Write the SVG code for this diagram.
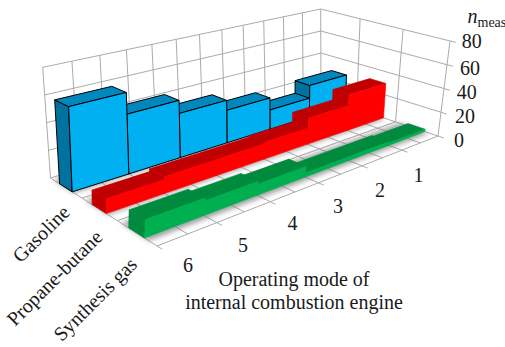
<svg xmlns="http://www.w3.org/2000/svg" width="505" height="347" viewBox="0 0 505 347">
  <style>
    .grid { stroke: #ababab; stroke-width: 1; fill: none; }
    .wall { fill: #ffffff; stroke: none; }
    .gasF { fill: #00b0f0; stroke: #000; stroke-width: 1; stroke-linejoin: round; }
    .gasS { fill: #0088be; stroke: #000; stroke-width: 1; stroke-linejoin: round; }
    .gasL { fill: #0072a0; stroke: #000; stroke-width: 1; stroke-linejoin: round; }
    .lpgF { fill: #ff0000; stroke: #ff0000; stroke-width: 0.6; stroke-linejoin: round; }
    .lpgS { fill: #c00000; stroke: #c00000; stroke-width: 0.6; stroke-linejoin: round; }
    .synF { fill: #00b050; stroke: #00b050; stroke-width: 0.6; stroke-linejoin: round; }
    .synS { fill: #008a3e; stroke: #008a3e; stroke-width: 0.6; stroke-linejoin: round; }
    .shade { fill: #6e6e6e; opacity: 0.65; filter: url(#soft); }
    .txt { font-family: "Liberation Serif", "Times New Roman", serif; font-size: 20px; fill: #1a1a1a; }
  </style>
  <defs>
    <filter id="soft" x="-10%" y="-40%" width="120%" height="180%">
      <feGaussianBlur stdDeviation="2.6"/>
    </filter>
  </defs>
  <rect width="505" height="347" fill="#ffffff"/>

  <!-- back wall, side wall and floor -->
  <g id="walls">
    <polygon class="wall" points="50.5,178 321,97 320.7,9 42.7,67.3"/>
    <polygon class="wall" points="321,97 438,136 450,41 320.7,9"/>
    <polygon class="wall" points="50.5,178 321,97 438,136 157,246"/>
  </g>

  <g id="grid" class="grid">
    <!-- back wall: category lines -->
    <line x1="50.5" y1="178" x2="42.7" y2="67.3"/>
    <line x1="78.96" y1="169.48" x2="71.95" y2="61.17"/>
    <line x1="106.1" y1="161.35" x2="99.84" y2="55.32"/>
    <line x1="132" y1="153.6" x2="126.45" y2="49.74"/>
    <line x1="156.74" y1="146.19" x2="151.88" y2="44.41"/>
    <line x1="180.4" y1="139.1" x2="176.2" y2="39.31"/>
    <line x1="203.06" y1="132.32" x2="199.49" y2="34.43"/>
    <line x1="224.77" y1="125.82" x2="221.8" y2="29.75"/>
    <line x1="245.59" y1="119.58" x2="243.2" y2="25.27"/>
    <line x1="265.58" y1="113.6" x2="263.74" y2="20.96"/>
    <line x1="284.78" y1="107.85" x2="283.47" y2="16.83"/>
    <line x1="303.24" y1="102.32" x2="302.45" y2="12.85"/>
    <line x1="321" y1="97" x2="320.7" y2="9"/>
    <!-- back wall: value lines -->
    <line x1="50.5" y1="178" x2="321" y2="97"/>
    <line x1="48.55" y1="150.33" x2="320.93" y2="75"/>
    <line x1="46.6" y1="122.65" x2="320.85" y2="53"/>
    <line x1="44.65" y1="94.98" x2="320.78" y2="31"/>
    <line x1="42.7" y1="67.3" x2="320.7" y2="9"/>
    <!-- side wall: series lines -->
    <line x1="356.66" y1="108.89" x2="360.1" y2="18.78"/>
    <line x1="395.51" y1="121.84" x2="403.04" y2="29.4"/>
    <line x1="438" y1="136" x2="450" y2="41"/>
    <!-- side wall: value lines with ticks -->
    <line x1="321" y1="97" x2="443.7" y2="137.9"/>
    <line x1="320.93" y1="75" x2="446.7" y2="114"/>
    <line x1="320.85" y1="53" x2="449.8" y2="90.2"/>
    <line x1="320.78" y1="31" x2="452.8" y2="66.3"/>
    <line x1="320.7" y1="9" x2="455.8" y2="42.4"/>
    <!-- floor: series lines -->
    <line x1="82.01" y1="198.12" x2="356.66" y2="108.89"/>
    <line x1="117.28" y1="220.64" x2="395.51" y2="121.84"/>
    <line x1="157" y1="246" x2="438" y2="136"/>
    <!-- floor: category lines (ticks past the front edge at whole modes) -->
    <line x1="50.5" y1="178" x2="162.1" y2="249.2"/>
    <line x1="78.96" y1="169.48" x2="187.7" y2="233.99"/>
    <line x1="106.1" y1="161.35" x2="222" y2="225.5"/>
    <line x1="132" y1="153.6" x2="244.18" y2="211.88"/>
    <line x1="156.74" y1="146.19" x2="275.6" y2="204.3"/>
    <line x1="180.4" y1="139.1" x2="294.91" y2="192.02"/>
    <line x1="203.06" y1="132.32" x2="323.9" y2="185.2"/>
    <line x1="224.77" y1="125.82" x2="340.73" y2="174.08"/>
    <line x1="245.59" y1="119.58" x2="367.6" y2="168"/>
    <line x1="265.58" y1="113.6" x2="382.33" y2="157.8"/>
    <line x1="284.78" y1="107.85" x2="407.4" y2="152.2"/>
    <line x1="303.24" y1="102.32" x2="420.26" y2="142.95"/>
  </g>

  <!-- soft shadows cast by each row onto the floor -->
  <g id="floor-shadows">
    <polygon class="shade" points="53.5,179.92 324.43,98.14 347.46,105.82 73.81,192.88"/>
    <polygon class="shade" points="85.36,200.26 360.39,110.13 385.48,118.49 108.07,214.76"/>
    <polygon class="shade" points="121.03,223.04 399.59,123.2 429.19,133.07 148.66,240.68"/>
  </g>

  <!-- Gasoline: modes 1..6, drawn right to left -->
  <g id="gasoline">
    <polygon class="gasL" points="295.11,111.59 309.3,116.73 309.76,85.46 295.05,80.64"/>
    <polygon class="gasS" points="295.05,80.64 331.66,70.56 346.42,75.02 309.76,85.46"/>
    <polygon class="gasF" points="309.3,116.73 345.65,105.21 346.42,75.02 309.76,85.46"/>

    <polygon class="gasL" points="255.82,123.63 269.89,129.22 269.96,109.99 255.57,104.61"/>
    <polygon class="gasS" points="255.57,104.61 295.07,93.25 309.57,98.2 269.96,109.99"/>
    <polygon class="gasF" points="269.89,129.22 309.3,116.73 309.57,98.2 269.96,109.99"/>

    <polygon class="gasL" points="213.13,136.73 227,142.8 226.75,110.32 212.35,104.64"/>
    <polygon class="gasS" points="212.35,104.64 255.42,92.73 270,97.97 226.75,110.32"/>
    <polygon class="gasF" points="227,142.8 269.89,129.22 270,97.97 226.75,110.32"/>

    <polygon class="gasL" points="166.58,151 180.16,157.64 179.32,113.41 165.03,107.34"/>
    <polygon class="gasS" points="165.03,107.34 212.11,94.76 226.67,100.33 179.32,113.41"/>
    <polygon class="gasF" points="180.16,157.64 227,142.8 226.67,100.33 179.32,113.41"/>

    <polygon class="gasL" points="115.62,166.63 128.79,173.92 126.98,114.19 112.86,107.72"/>
    <polygon class="gasS" points="112.86,107.72 164.58,94.49 179.07,100.4 126.98,114.19"/>
    <polygon class="gasF" points="128.79,173.92 180.16,157.64 179.07,100.4 126.98,114.19"/>

    <polygon class="gasL" points="59.6,183.81 72.19,191.85 68.62,106.65 54.71,99.87"/>
    <polygon class="gasS" points="54.71,99.87 111.86,86.3 126.32,92.47 68.62,106.65"/>
    <polygon class="gasF" points="72.19,191.85 128.79,173.92 126.32,92.47 68.62,106.65"/>
  </g>

  <!-- Propane-butane -->
  <g id="propane-butane">
    <polygon class="lpgS" points="331.56,124.79 347.08,130.41 349.12,94.71 332.97,89.48"/>
    <polygon class="lpgS" points="332.97,89.48 369.7,78.6 385.84,83.43 349.12,94.71"/>
    <polygon class="lpgF" points="347.08,130.41 383.49,117.83 385.84,83.43 349.12,94.71"/>

    <polygon class="lpgS" points="292,137.98 307.45,144.1 308.64,118.12 292.74,112.3"/>
    <polygon class="lpgS" points="292.74,112.3 332.55,100.08 348.51,105.42 308.64,118.12"/>
    <polygon class="lpgF" points="307.45,144.1 347.08,130.41 348.51,105.42 308.64,118.12"/>

    <polygon class="lpgS" points="248.84,152.37 264.14,159.07 264.72,142.32 249.13,135.83"/>
    <polygon class="lpgS" points="249.13,135.83 292.46,122.09 308.19,128.02 264.72,142.32"/>
    <polygon class="lpgF" points="264.14,159.07 307.45,144.1 308.19,128.02 264.72,142.32"/>

    <polygon class="lpgS" points="201.59,168.13 216.62,175.48 217,159.34 201.69,152.21"/>
    <polygon class="lpgS" points="201.69,152.21 249.11,137.1 264.68,143.6 217,159.34"/>
    <polygon class="lpgF" points="216.62,175.48 264.14,159.07 264.68,143.6 217,159.34"/>

    <polygon class="lpgS" points="149.61,185.45 164.26,193.57 164.46,176.68 149.52,168.81"/>
    <polygon class="lpgS" points="149.52,168.81 201.69,152.21 217,159.34 164.46,176.68"/>
    <polygon class="lpgF" points="164.26,193.57 216.62,175.48 217,159.34 164.46,176.68"/>

    <polygon class="lpgS" points="92.17,204.61 106.26,213.61 106.26,198.84 91.93,190.08"/>
    <polygon class="lpgS" points="91.93,190.08 149.54,171.58 164.43,179.49 106.26,198.84"/>
    <polygon class="lpgF" points="106.26,213.61 164.26,193.57 164.43,179.49 106.26,198.84"/>
  </g>

  <!-- Synthesis gas -->
  <g id="synthesis-gas">
    <polygon class="synS" points="371.47,139.24 388.51,145.42 388.76,142.97 371.67,136.82"/>
    <polygon class="synS" points="371.67,136.82 408.07,123.62 425.12,129.27 388.76,142.97"/>
    <polygon class="synF" points="388.51,145.42 424.85,131.62 425.12,129.27 388.76,142.97"/>

    <polygon class="synS" points="331.76,153.75 348.8,160.5 349.15,156.67 332.03,149.97"/>
    <polygon class="synS" points="332.03,149.97 371.77,135.61 388.88,141.75 349.15,156.67"/>
    <polygon class="synF" points="348.8,160.5 388.51,145.42 388.88,141.75 349.15,156.67"/>

    <polygon class="synS" points="288.27,169.63 305.21,177.05 305.52,173.05 288.51,165.69"/>
    <polygon class="synS" points="288.51,165.69 332.03,149.97 349.15,156.67 305.52,173.05"/>
    <polygon class="synF" points="305.21,177.05 348.8,160.5 349.15,156.67 305.52,173.05"/>

    <polygon class="synS" points="240.41,187.12 257.15,195.31 257.9,184.15 240.95,176.12"/>
    <polygon class="synS" points="240.95,176.12 288.91,159.11 306.05,166.39 257.9,184.15"/>
    <polygon class="synF" points="257.15,195.31 305.21,177.05 306.05,166.39 257.9,184.15"/>

    <polygon class="synS" points="187.5,206.44 203.9,215.53 204.71,200.89 188.05,192.03"/>
    <polygon class="synS" points="188.05,192.03 241.09,173.38 258.09,181.36 204.71,200.89"/>
    <polygon class="synF" points="203.9,215.53 257.15,195.31 258.09,181.36 204.71,200.89"/>

    <polygon class="synS" points="128.69,227.93 144.57,238.06 145.38,219.57 129.17,209.76"/>
    <polygon class="synS" points="129.17,209.76 188.15,189.15 204.88,197.96 145.38,219.57"/>
    <polygon class="synF" points="144.57,238.06 203.9,215.53 204.88,197.96 145.38,219.57"/>
  </g>

  <!-- value axis -->
  <g id="value-axis" class="txt">
    <text x="461.7" y="48.3">80</text>
    <text x="460" y="75">60</text>
    <text x="456.7" y="99.3">40</text>
    <text x="455" y="123.3">20</text>
    <text x="454" y="146.7">0</text>
    <text x="467.5" y="23" font-style="italic">n</text>
    <text x="477.5" y="27" font-size="14">meas</text>
  </g>

  <!-- category axis -->
  <g id="category-axis" class="txt" text-anchor="middle">
    <text x="418.5" y="182">1</text>
    <text x="380" y="196.7">2</text>
    <text x="338" y="213.3">3</text>
    <text x="292.5" y="230">4</text>
    <text x="243" y="251.7">5</text>
    <text x="188" y="271.7">6</text>
    <text x="294" y="286">Operating mode of</text>
    <text x="294" y="309">internal combustion engine</text>
  </g>

  <!-- series axis -->
  <g id="series-axis" class="txt" text-anchor="middle">
    <text transform="translate(46,238.5) rotate(-45)">Gasoline</text>
    <text transform="translate(59.3,282.7) rotate(-45)">Propane-butane</text>
    <text transform="translate(100,304) rotate(-45)">Synthesis gas</text>
  </g>
</svg>
